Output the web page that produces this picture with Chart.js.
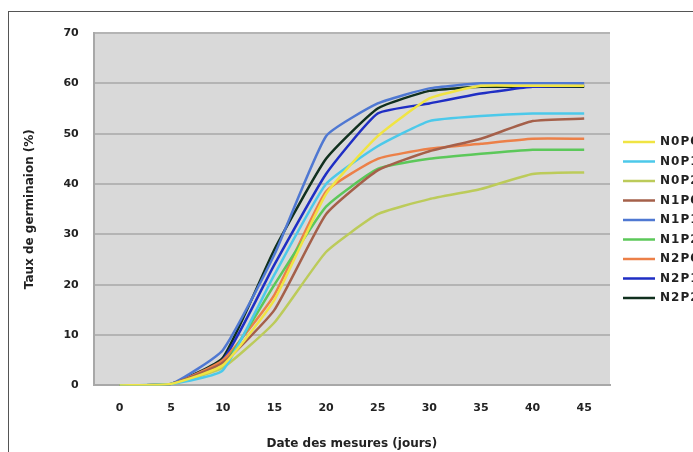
<!DOCTYPE html>
<html>
<head>
<meta charset="utf-8">
<script src="https://cdn.jsdelivr.net/npm/chart.js@4"></script>
<style>
  html, body { margin: 0; padding: 0; background: #fff; }
  #wrap { position: relative; width: 693px; height: 452px; }
  #frame { position: absolute; left: 8px; top: 11px; width: 700px; height: 460px; border: 1px solid #555; }
  canvas { position: absolute; left: 0; top: 0; }
</style>
</head>
<body>
<div id="wrap">
  <div id="frame"></div>
  <canvas id="chart" width="693" height="452"></canvas>
</div>
<script>
// Days of measurement
const days = ['0', '5', '10', '15', '20', '25', '30', '35', '40', '45'];

// Germination rate (%) per treatment
const n0p0 = [0, 0.3, 4, 17, 38, 49.5, 57, 59.5, 59.5, 59.5];
const n0p1 = [0, 0.3, 3, 22, 40, 47.5, 52.5, 53.5, 54, 54];
const n0p2 = [0, 0.3, 3.5, 12.5, 26.5, 34, 37, 39, 42, 42.3];
const n1p0 = [0, 0.3, 4.5, 15, 34, 42.7, 46.5, 49, 52.5, 53];
const n1p1 = [0, 0.3, 7, 26, 49.5, 56, 59, 60, 60, 60];
const n1p2 = [0, 0.3, 4, 20, 35.5, 43, 45, 46, 46.8, 46.8];
const n2p0 = [0, 0.3, 5, 18, 38.5, 45, 47, 48, 49, 49];
const n2p1 = [0, 0.3, 5, 24, 42, 54, 56, 58, 59.3, 59.5];
const n2p2 = [0, 0.3, 5.5, 27, 45, 55, 58.5, 59.3, 59.3, 59.3];

const seriesNames = ['N0P0', 'N0P1', 'N0P2', 'N1P0', 'N1P1', 'N1P2', 'N2P0', 'N2P1', 'N2P2'];
const seriesData = [n0p0, n0p1, n0p2, n1p0, n1p1, n1p2, n2p0, n2p1, n2p2];
const seriesColors = ['#f0e443', '#4cc9ea', '#bccb5a', '#a5604a', '#4f78d2', '#5cc85a', '#ec8048', '#1f2ec4', '#10301e'];

// plot background
const plotBg = {
  id: 'plotBg',
  beforeDraw(chart) {
    const { ctx, chartArea: a } = chart;
    ctx.save();
    ctx.fillStyle = '#d9d9d9';
    ctx.fillRect(a.left, a.top, a.right - a.left, a.bottom - a.top);
    ctx.restore();
  }
};

// legend drawn on the right, cut by the canvas edge like the original
const sideLegend = {
  id: 'sideLegend',
  afterDraw(chart) {
    const ctx = chart.ctx;
    ctx.save();
    ctx.font = 'bold 12px "DejaVu Sans"';
    ctx.letterSpacing = '1px';
    ctx.textBaseline = 'middle';
    chart.data.datasets.forEach((ds, i) => {
      const y = 142 + i * 19.5;
      ctx.strokeStyle = ds.borderColor;
      ctx.lineWidth = 2.5;
      ctx.beginPath();
      ctx.moveTo(623, y);
      ctx.lineTo(655, y);
      ctx.stroke();
      ctx.fillStyle = '#222';
      ctx.fillText(ds.label, 660, y);
    });
    ctx.restore();
  }
};

const ctx = document.getElementById('chart').getContext('2d');
new Chart(ctx, {
  type: 'line',
  data: {
    labels: days,
    datasets: seriesNames.map((name, i) => ({
      label: name,
      data: seriesData[i],
      borderColor: seriesColors[i],
      borderWidth: 2.5,
      pointRadius: 0,
      tension: 0.15,
      fill: false
    }))
  },
  options: {
    responsive: false,
    animation: false,
    layout: { padding: { left: 23, top: 33, right: 83, bottom: 1 } },
    plugins: {
      legend: { display: false },
      tooltip: { enabled: false }
    },
    scales: {
      x: {
        offset: true,
        grid: { display: false, drawTicks: false },
        border: { color: '#a8a8a8', width: 2 },
        ticks: { color: '#222', font: { family: 'DejaVu Sans', size: 11, weight: 'bold' }, padding: 16 },
        title: {
          display: true,
          text: 'Date des mesures (jours)',
          color: '#222',
          font: { family: 'DejaVu Sans', size: 12, weight: 'bold' },
          padding: { top: 6, bottom: 0 }
        }
      },
      y: {
        min: 0,
        max: 70,
        ticks: { stepSize: 10, color: '#222', font: { family: 'DejaVu Sans', size: 11, weight: 'bold' }, padding: 15 },
        grid: { color: '#b4b4b4', lineWidth: 2, drawTicks: false },
        border: { color: '#a8a8a8', width: 2 },
        title: {
          display: true,
          text: 'Taux de germinaion (%)',
          color: '#222',
          font: { family: 'DejaVu Sans', size: 12, weight: 'bold' },
          padding: { top: 0, bottom: 11 }
        }
      }
    }
  },
  plugins: [plotBg, sideLegend]
});
</script>
</body>
</html>
